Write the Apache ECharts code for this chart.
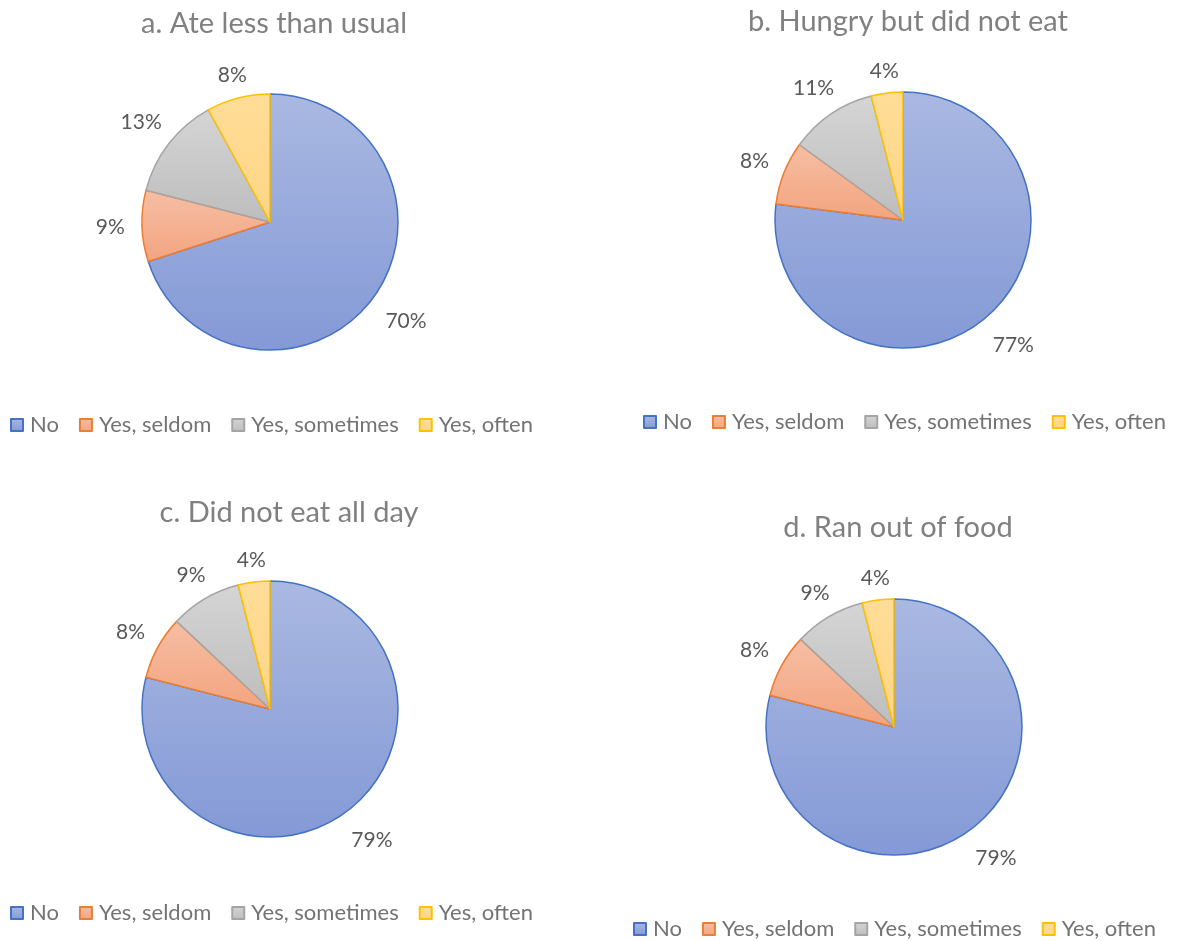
<!DOCTYPE html>
<html>
<head>
<meta charset="utf-8">
<script src="https://cdn.jsdelivr.net/npm/echarts@6/dist/echarts.min.js"></script>
<style>
  html, body { margin: 0; padding: 0; background: #fff; }
  #chart { width: 1181px; height: 941px; }
</style>
</head>
<body>
<div id="chart"></div>
<script>
// answer categories, same order for every pie
const categories = ['No', 'Yes, seldom', 'Yes, sometimes', 'Yes, often'];

// percent of respondents per question
const ateLess = [70, 9, 13, 8];
const hungryNotEat = [77, 8, 11, 4];
const notEatAllDay = [79, 8, 9, 4];
const ranOutOfFood = [79, 8, 9, 4];

const titles = ['a. Ate less than usual', 'b. Hungry but did not eat', 'c. Did not eat all day', 'd. Ran out of food'];

// fills (top -> bottom gradient) and outline per category
const fills = [
    ['#aab9e2', '#8499d6'],
    ['#f6bea4', '#f3a47f'],
    ['#d5d5d5', '#bdbdbd'],
    ['#ffdd98', '#ffd584']
];
const borders = ['#4472c4', '#ed7d31', '#a5a5a5', '#ffc000'];

// layout of each panel: pie centre, title centre x / top, legend left / top
const panels = [
    { values: ateLess,      center: [270, 222], titleX: 269, titleY: 4,   legendX: 5,   legendY: 409 },
    { values: hungryNotEat, center: [903, 220], titleX: 903, titleY: 2,   legendX: 638, legendY: 406 },
    { values: notEatAllDay, center: [270, 709], titleX: 284, titleY: 493, legendX: 5,   legendY: 897 },
    { values: ranOutOfFood, center: [894, 727], titleX: 893, titleY: 508, legendX: 628, legendY: 913 }
];

const fontFamily = 'Lato, "Open Sans", sans-serif';
// label spacing outside the pie, roughly like Excel "best fit"
const labelGap = 17;
const labelHalfUp = 3;    // labels above the centre sit closer
const labelHalfDown = 11; // labels below sit a bit further out

// put each label centred just outside its slice, along the mid-angle
function placeLabel(params) {
    const pts = params.labelLinePoints;
    if (!pts) return {};
    const dx = pts[1][0] - pts[0][0];
    const dy = pts[1][1] - pts[0][1];
    const len = Math.hypot(dx, dy) || 1;
    const ux = dx / len, uy = dy / len;
    const hw = params.labelRect.width / 2;
    const d = labelGap + Math.abs(ux) * hw + (uy < 0 ? -uy * labelHalfUp : uy * labelHalfDown);
    return {
        x: pts[0][0] + ux * d,
        y: pts[0][1] + uy * d,
        align: 'center',
        verticalAlign: 'middle'
    };
}

let chartDom = document.getElementById('chart');
let myChart = echarts.init(chartDom);

let option = {
    backgroundColor: '#ffffff',
    title: panels.map((p, i) => ({
        text: titles[i],
        left: p.titleX,
        top: p.titleY,
        textAlign: 'center',
        textStyle: {
            color: '#808080',
            fontSize: 29,
            fontWeight: 'normal',
            fontFamily: fontFamily
        }
    })),
    legend: panels.map((p, i) => ({
        data: categories,
        left: p.legendX,
        top: p.legendY,
        icon: 'rect',
        itemWidth: 12,
        itemHeight: 12,
        itemGap: 20,
        textStyle: {
            color: '#737373',
            fontSize: 22,
            fontFamily: fontFamily,
            padding: [0, 0, 0, 2]
        }
    })),
    series: panels.map((p, i) => ({
        type: 'pie',
        name: titles[i],
        center: p.center,
        radius: 128,
        startAngle: 90,
        clockwise: true,
        percentPrecision: 0,
        avoidLabelOverlap: false,
        animation: false,
        label: {
            show: true,
            position: 'outside',
            formatter: '{d}%',
            color: '#595959',
            fontSize: 21,
            fontFamily: fontFamily
        },
        labelLine: {
            show: true,
            length: 20,
            length2: 0,
            lineStyle: { opacity: 0 }
        },
        labelLayout: placeLabel,
        emphasis: { disabled: true },
        data: p.values.map((v, k) => ({
            name: categories[k],
            value: v,
            itemStyle: {
                color: new echarts.graphic.LinearGradient(0, 0, 0, 1, [
                    { offset: 0, color: fills[k][0] },
                    { offset: 1, color: fills[k][1] }
                ]),
                borderColor: borders[k],
                borderWidth: 1.5
            }
        }))
    }))
};

myChart.setOption(option);
</script>
</body>
</html>
